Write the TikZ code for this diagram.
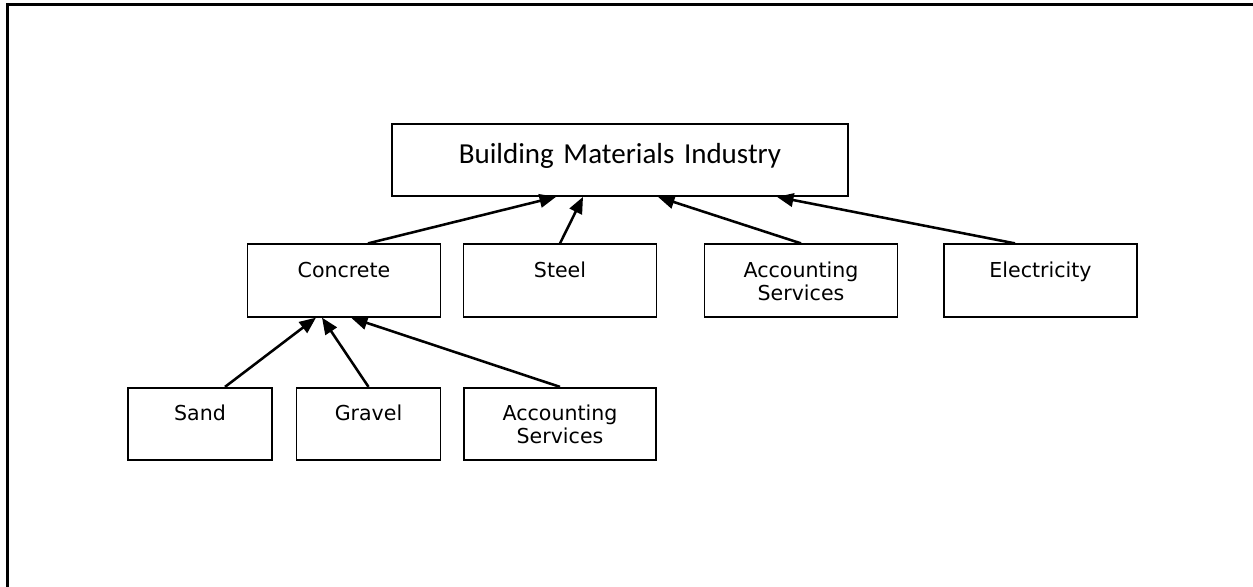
\documentclass[tikz,border=0pt]{standalone}
\usepackage{fontspec}
\usepackage{tikz}
\usetikzlibrary{arrows.meta, positioning}
\newfontfamily\carlito{Carlito}
\newfontfamily\verdana{DejaVu Sans}
\tikzset{>={Triangle[length=0.33cm,width=0.27cm]}}

\begin{document}
\begin{tikzpicture}[x=0.02cm, y=-0.02cm,
  sector/.style={draw, line width=1pt, inner sep=0pt, align=center,
    text width=3.86cm, text height=0.66cm, text depth=0.79cm,
    font=\verdana\fontsize{11.7}{13}\selectfont},
  input/.style={sector, text width=2.88cm},
  link/.style={->, line width=1.45pt}]

\clip (0,0) rectangle (1253,586);
\draw[line width=1.2pt] (7.5,600) -- (7.5,4.5) -- (1260,4.5);

\node[sector, text width=9.12cm, text height=0.78cm, text depth=0.66cm,
  font=\carlito\fontsize{16.5}{20}\selectfont] (industry) at (620,160) {Building Materials Industry};

\node[sector] (concrete) at (344,280.5) {Concrete};
\node[sector] (steel) at (560,280.5) {Steel};
\node[sector] (accounting) at (801,280.5) {Accounting\\Services};
\node[sector] (electricity) at (1040.5,280.5) {Electricity};

\node[input] (sand) at (200,424) {Sand};
\node[input] (gravel) at (368.5,424) {Gravel};
\node[sector, text width=3.84cm] (accounting2) at (560,424) {Accounting\\Services};

\draw[link] ([xshift=0.48cm]concrete.north) -- ([xshift=-1.28cm]industry.south);
\draw[link] (steel.north) -- ([xshift=-0.74cm]industry.south);
\draw[link] (accounting.north) -- ([xshift=0.76cm]industry.south);
\draw[link] ([xshift=-0.51cm]electricity.north) -- ([xshift=3.14cm]industry.south);

\draw[link] ([xshift=0.5cm]sand.north) -- ([xshift=-0.56cm]concrete.south);
\draw[link] (gravel.north) -- ([xshift=-0.44cm]concrete.south);
\draw[link] (accounting2.north) -- ([xshift=0.14cm]concrete.south);

\end{tikzpicture}
\end{document}
